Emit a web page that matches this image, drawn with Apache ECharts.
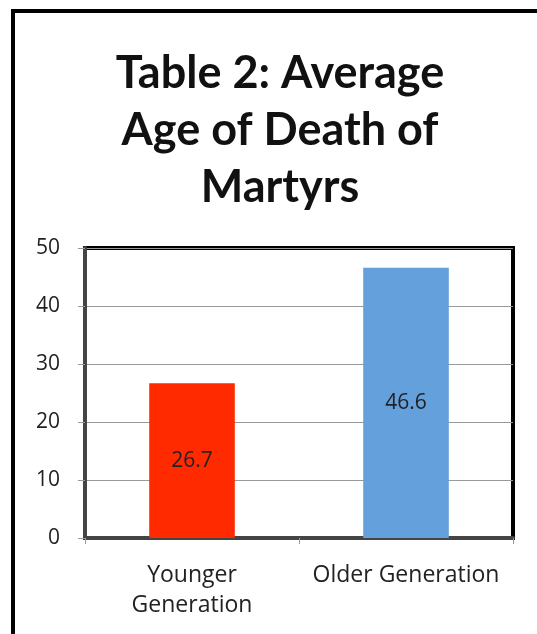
<!DOCTYPE html>
<html>
<head>
<meta charset="utf-8">
<script src="https://cdn.jsdelivr.net/npm/echarts@6/dist/echarts.min.js"></script>
<style>
  html, body { margin: 0; padding: 0; background: #fff; }
  #chart { width: 537px; height: 634px; }
</style>
</head>
<body>
<div id="chart"></div>
<script>
var categories = ['Younger\nGeneration', 'Older Generation'];
var ages = [26.7, 46.6];
var barColors = ['#ff2a00', '#64a0dc'];
var yTicks = { min: 0, max: 50, interval: 10 };

var myChart = echarts.init(document.getElementById('chart'));
var option = {
  backgroundColor: '#fff',
  animation: false,
  title: {
    text: 'Table 2: Average\nAge of Death of\nMartyrs',
    left: 275,
    textAlign: 'center',
    top: 40,
    textStyle: {
      fontFamily: 'Lato',
      fontWeight: 'bold',
      fontSize: 45,
      lineHeight: 57,
      color: '#111'
    }
  },
  graphic: [
    {
      type: 'rect',
      shape: { x: 13, y: 11, width: 560, height: 700 },
      style: { fill: null, stroke: '#000', lineWidth: 4 },
      silent: true
    }
  ],
  grid: {
    left: 85,
    top: 248,
    right: 24,
    bottom: 96,
    show: true,
    borderColor: '#000',
    borderWidth: 4
  },
  xAxis: {
    type: 'category',
    data: categories,
    axisLine: { lineStyle: { color: '#444', width: 4 } },
    axisTick: { show: true, length: 6, lineStyle: { color: '#999' } },
    axisLabel: {
      fontFamily: 'Open Sans',
      fontSize: 23,
      color: '#222',
      lineHeight: 30,
      margin: 22,
      interval: 0
    }
  },
  yAxis: {
    type: 'value',
    min: yTicks.min,
    max: yTicks.max,
    interval: yTicks.interval,
    axisLine: { show: true, lineStyle: { color: '#444', width: 4 } },
    axisTick: { show: true, length: 7, lineStyle: { color: '#999' } },
    splitLine: { lineStyle: { color: '#999', width: 1 } },
    axisLabel: {
      fontFamily: 'Open Sans',
      fontSize: 21,
      color: '#222',
      margin: 25
    }
  },
  series: [
    {
      type: 'bar',
      barWidth: '40%',
      data: ages.map(function (v, i) {
        return { value: v, itemStyle: { color: barColors[i] } };
      }),
      label: {
        show: true,
        position: 'inside',
        fontFamily: 'Open Sans',
        fontSize: 21,
        color: '#222'
      }
    }
  ]
};
option && myChart.setOption(option);
</script>
</body>
</html>
